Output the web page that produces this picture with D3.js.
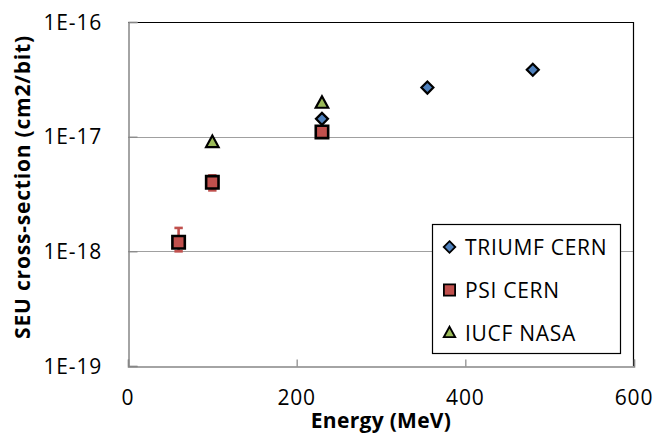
<!DOCTYPE html>
<html>
<head>
<meta charset="utf-8">
<script src="https://cdn.jsdelivr.net/npm/d3@7"></script>
<style>
  html, body { margin: 0; padding: 0; background: #fff; }
  svg { display: block; font-family: "Open Sans", "Noto Sans", sans-serif; }
</style>
</head>
<body>
<svg id="chart" width="657" height="437"></svg>
<script>
// Proton SEU cross-section measurements, by facility
const triumfEnergy = [230, 355, 480];
const triumfXs = [1.43e-17, 2.68e-17, 3.83e-17];

const psiEnergy = [60, 100, 230];
const psiXs = [1.2e-18, 4.0e-18, 1.1e-17];
const psiErrLow = [1.0e-18, 3.4e-18, null];
const psiErrHigh = [1.6e-18, 4.6e-18, null];

const iucfEnergy = [100, 230];
const iucfXs = [8.9e-18, 1.96e-17];

const xTicks = [0, 200, 400, 600];
const yTicks = [1e-19, 1e-18, 1e-17, 1e-16];
const yTickLabels = ["1E-19", "1E-18", "1E-17", "1E-16"];
const seriesNames = ["TRIUMF CERN", "PSI CERN", "IUCF NASA"];

const W = 657, H = 437;
const margin = { left: 128, top: 22, right: 23, bottom: 71 };
const svg = d3.select("#chart");

const x = d3.scaleLinear().domain([0, 600]).range([margin.left, W - margin.right]);
const y = d3.scaleLog().domain([1e-19, 1e-16]).range([H - margin.bottom, margin.top]);

const x0 = x.range()[0], x1 = x.range()[1];
const yb = y.range()[0], yt = y.range()[1];

const colors = { triumf: "#4f81bd", psi: "#c0504d", iucf: "#9bbb59" };

// Horizontal gridlines at inner decades
svg.append("g")
  .selectAll("line")
  .data(yTicks.filter(t => t > 1e-19 && t < 1e-16))
  .join("line")
  .attr("x1", x0).attr("x2", x1)
  .attr("y1", d => Math.round(y(d)) + 0.5).attr("y2", d => Math.round(y(d)) + 0.5)
  .attr("stroke", "#a0a0a0").attr("stroke-width", 1.2);

// Plot frame: top and right edges
svg.append("path")
  .attr("d", `M${x0},${yt + 0.5}H${x1 - 0.5}V${yb}`)
  .attr("fill", "none").attr("stroke", "#000").attr("stroke-width", 1.2);

// Y axis (ticks point inward)
const yAxis = d3.axisRight(y).tickValues(yTicks).tickSize(9).tickFormat(() => "");
const gy = svg.append("g").attr("transform", `translate(${x0 + 0.5},0)`).call(yAxis);
gy.select(".domain").attr("stroke", "#868686").attr("stroke-width", 1.5);
gy.selectAll(".tick line").attr("stroke", "#868686").attr("stroke-width", 1.2);

// X axis (ticks point inward)
const xAxis = d3.axisTop(x).tickValues(xTicks).tickSize(7).tickFormat(() => "");
const gx = svg.append("g").attr("transform", `translate(0,${yb + 0.5})`).call(xAxis);
gx.select(".domain").attr("stroke", "#868686").attr("stroke-width", 1.5);
gx.selectAll(".tick line").attr("stroke", "#868686").attr("stroke-width", 1.2);

// Tick labels
svg.append("g")
  .selectAll("text")
  .data(yTicks)
  .join("text")
  .attr("x", 102)
  .attr("y", d => y(d) + 7.5)
  .attr("text-anchor", "end")
  .attr("font-size", 21)
  .attr("letter-spacing", 0.8)
  .text((d, i) => yTickLabels[i]);

svg.append("g")
  .selectAll("text")
  .data(xTicks)
  .join("text")
  .attr("x", d => x(d))
  .attr("y", 405)
  .attr("text-anchor", "middle")
  .attr("font-size", 21)
  .attr("letter-spacing", 0.8)
  .text(d => d);

// Axis titles
svg.append("text")
  .attr("x", (x0 + x1) / 2)
  .attr("y", 428)
  .attr("text-anchor", "middle")
  .attr("font-size", 21)
  .attr("font-weight", "bold")
  .attr("letter-spacing", 0.3)
  .text("Energy (MeV)");

svg.append("text")
  .attr("transform", `translate(30,${(yt + yb) / 2 - 7}) rotate(-90)`)
  .attr("text-anchor", "middle")
  .attr("font-size", 21)
  .attr("font-weight", "bold")
  .attr("letter-spacing", 0.8)
  .text("SEU cross-section (cm2/bit)");

// Marker shapes
const diamondPath = s => `M0,${-s}L${s},0L0,${s}L${-s},0Z`;
const squarePath = s => `M${-s},${-s}H${s}V${s}H${-s}Z`;
const trianglePath = (w, h) => `M0,${-h * 0.6}L${w / 2},${h * 0.4}L${-w / 2},${h * 0.4}Z`;

// PSI error bars
const psiErr = psiEnergy.map((e, i) => ({ e, lo: psiErrLow[i], hi: psiErrHigh[i] }))
  .filter(d => d.lo != null);
const eb = svg.append("g").attr("stroke", colors.psi).attr("stroke-width", 2.6);
eb.selectAll("line.stem").data(psiErr).join("line").attr("class", "stem")
  .attr("x1", d => x(d.e)).attr("x2", d => x(d.e))
  .attr("y1", d => y(d.lo)).attr("y2", d => y(d.hi));
eb.selectAll("line.cap-hi").data(psiErr).join("line").attr("class", "cap-hi")
  .attr("x1", d => x(d.e) - 4.2).attr("x2", d => x(d.e) + 4.2)
  .attr("y1", d => y(d.hi)).attr("y2", d => y(d.hi));
eb.selectAll("line.cap-lo").data(psiErr).join("line").attr("class", "cap-lo")
  .attr("x1", d => x(d.e) - 4.2).attr("x2", d => x(d.e) + 4.2)
  .attr("y1", d => y(d.lo)).attr("y2", d => y(d.lo));

// TRIUMF CERN
svg.append("g").selectAll("path")
  .data(triumfEnergy.map((e, i) => [e, triumfXs[i]]))
  .join("path")
  .attr("transform", d => `translate(${x(d[0])},${y(d[1])})`)
  .attr("d", diamondPath(6))
  .attr("fill", colors.triumf).attr("stroke", "#000").attr("stroke-width", 2.2);

// PSI CERN
svg.append("g").selectAll("path")
  .data(psiEnergy.map((e, i) => [e, psiXs[i]]))
  .join("path")
  .attr("transform", d => `translate(${x(d[0])},${y(d[1])})`)
  .attr("d", squarePath(6.2))
  .attr("fill", colors.psi).attr("stroke", "#000").attr("stroke-width", 2.6);

// IUCF NASA
svg.append("g").selectAll("path")
  .data(iucfEnergy.map((e, i) => [e, iucfXs[i]]))
  .join("path")
  .attr("transform", d => `translate(${x(d[0])},${y(d[1])})`)
  .attr("d", trianglePath(12.5, 11.5))
  .attr("fill", colors.iucf).attr("stroke", "#000").attr("stroke-width", 2.2);

// Legend
const lg = svg.append("g").attr("transform", "translate(432,224)");
lg.append("rect")
  .attr("x", 0.5).attr("y", 0.5).attr("width", 188).attr("height", 129)
  .attr("fill", "#fff").attr("stroke", "#000").attr("stroke-width", 1.2);
const legendItems = [
  { name: seriesNames[0], d: diamondPath(5.8), fill: colors.triumf },
  { name: seriesNames[1], d: squarePath(5.6), fill: colors.psi },
  { name: seriesNames[2], d: trianglePath(11.5, 10.5), fill: colors.iucf }
];
const li = lg.selectAll("g.item").data(legendItems).join("g")
  .attr("class", "item")
  .attr("transform", (d, i) => `translate(0,${23 + i * 43})`);
li.append("path")
  .attr("transform", "translate(17.5,0)")
  .attr("d", d => d.d)
  .attr("fill", d => d.fill).attr("stroke", "#000").attr("stroke-width", 1.8);
li.append("text")
  .attr("x", 33).attr("y", 7.5)
  .attr("font-size", 21)
  .attr("letter-spacing", 0.7)
  .text(d => d.name);
</script>
</body>
</html>
